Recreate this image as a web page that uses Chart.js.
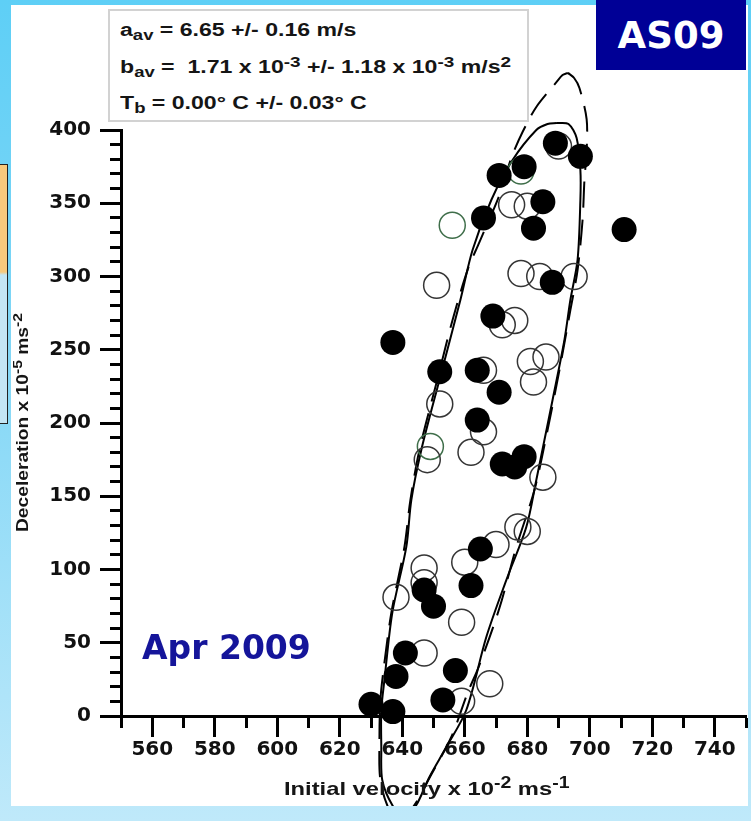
<!DOCTYPE html>
<html><head><meta charset="utf-8">
<script src="https://cdn.jsdelivr.net/npm/chart.js@4.4.1/dist/chart.umd.min.js"></script>
<style>
html,body{margin:0;padding:0;}
body{width:751px;height:821px;position:relative;overflow:hidden;background:linear-gradient(180deg,#5ecff6 0%,#7fd6f6 40%,#bfe9fa 100%);font-family:"Liberation Sans",Arial,sans-serif;}
#panel{position:absolute;left:11px;top:5px;width:737px;height:801px;background:#fff;}
#chart{position:absolute;left:11px;top:5px;}
#orange{position:absolute;left:-1px;top:164px;width:7px;height:258px;border:1px solid #222;background:linear-gradient(180deg,#f8c97c 0,#f8c97c 107px,#c4e5f4 110px,#c4e5f4 100%);}
#anno{position:absolute;left:108px;top:9px;width:417px;height:109px;border:2px solid #d2d2d2;background:#fff;}
.al{position:absolute;left:120px;font-weight:bold;font-size:17.5px;line-height:17.5px;white-space:pre;transform-origin:0 0;transform:scaleX(1.32);color:#151515;}
.sb{font-size:0.8em;position:relative;top:0.3em;}
.sp{font-size:0.82em;position:relative;top:-0.45em;}
#as09{position:absolute;left:596px;top:0;width:150px;height:70px;background:#000096;color:#fff;font-family:"DejaVu Sans";font-weight:bold;font-size:37px;line-height:72px;text-align:center;}
#apr{position:absolute;left:142px;top:631px;font-family:"DejaVu Sans";font-weight:bold;font-size:33px;line-height:33px;color:#15159a;white-space:pre;}
#xt{position:absolute;left:284px;top:779px;font-weight:bold;font-size:19px;line-height:19px;white-space:pre;transform-origin:0 0;transform:scaleX(1.25);color:#151515;}
#yt{position:absolute;left:0;top:0;font-weight:bold;font-size:16px;line-height:16px;white-space:pre;transform-origin:0 0;transform:translate(15px,532px) rotate(-90deg) scaleX(1.2);color:#151515;}
</style>
</head>
<body>
<div id="orange"></div>
<div id="panel"></div>
<canvas id="chart" width="737" height="801"></canvas>
<div id="anno"></div>
<div class="al" style="top:22px">a<span class="sb">av</span> = 6.65 +/- 0.16 m/s</div>
<div class="al" style="top:59px">b<span class="sb">av</span> =  1.71 x 10<span class="sp">-3</span> +/- 1.18 x 10<span class="sp">-3</span> m/s<span class="sp">2</span></div>
<div class="al" style="top:95px">T<span class="sb">b</span> = 0.00° C +/- 0.03° C</div>
<div id="as09">AS09</div>
<div id="apr">Apr 2009</div>
<div id="xt">Initial velocity x 10<span class="sp">-2</span> ms<span class="sp">-1</span></div>
<div id="yt">Deceleration x 10<span class="sp">-5</span> ms<span class="sp">-2</span></div>
<script>
// ---- data ----
const xMajorTicks = [560, 580, 600, 620, 640, 660, 680, 700, 720, 740];
const yMajorTicks = [0, 50, 100, 150, 200, 250, 300, 350, 400];

const filledX = [689, 697, 671, 679, 685, 666, 682, 711, 688, 669, 637, 652, 664, 671, 664, 672, 676, 679, 665, 662, 647, 650, 641, 638, 657, 653, 630, 637];
const filledY = [391, 382, 369, 375, 351, 340, 333, 332, 296, 273, 255, 235, 236, 221, 202, 172, 170, 177, 114, 89, 86, 75, 43, 27, 31, 11, 8, 3];

const openX = [690, 675, 680, 651, 678, 684, 695, 672, 676, 666, 681, 686, 682, 652, 666, 648, 662, 685, 677, 680, 670, 660, 647, 647, 638, 659, 647, 668, 659];
const openY = [389, 349, 348, 294, 302, 300, 300, 267, 270, 236, 242, 245, 228, 213, 194, 175, 180, 163, 129, 126, 117, 105, 101, 91, 81, 64, 43, 22, 10];

const openGreenX = [678, 656, 649];
const openGreenY = [372, 335, 184];

const solidX = [689.4, 693.2, 695.8, 697.0, 697.0, 696.1, 693.8, 691.9, 688.1, 685.5, 682.9, 679.7, 673.3, 666.9, 660.5, 654.1, 648.7, 644.5, 640.7, 636.8, 633.6, 633.3, 633.3, 634.3, 636.8, 641.3, 642.9, 646.1, 651.9, 658.6, 662.5, 668.5, 675.3, 682.9, 686.5, 689.4];
const solidY = [404.8, 404.1, 394.5, 372.7, 352.2, 311.3, 284.0, 256.7, 215.7, 188.4, 161.1, 129.0, 92.8, 53.9, 4.1, -21.2, -41.6, -60.8, -69.6, -60.8, -43.7, -21.2, 4.1, 24.6, 70.3, 115.4, 147.4, 181.6, 229.4, 284.0, 318.1, 352.2, 379.5, 400.0, 404.1, 404.8];

const dashX = [693.0, 695.0, 696.7, 699.0, 699.0, 698.3, 697.7, 696.1, 693.8, 690.3, 686.5, 682.3, 676.5, 671.1, 664.7, 660.9, 655.7, 648.7, 643.9, 639.7, 635.9, 633.0, 632.7, 633.0, 634.0, 636.5, 640.7, 642.6, 645.5, 651.2, 656.1, 660.9, 664.7, 671.1, 674.9, 678.5, 682.9, 689.4, 691.3, 693.0];
const dashY = [439.0, 435.5, 428.7, 407.5, 386.3, 365.9, 338.6, 304.4, 277.1, 236.2, 195.2, 154.3, 115.4, 73.7, 34.8, 15.7, -14.3, -42.3, -60.8, -71.0, -64.2, -43.7, -16.4, 10.9, 31.4, 70.3, 115.4, 147.4, 181.6, 229.4, 270.3, 304.4, 323.5, 355.6, 380.9, 398.6, 415.7, 432.8, 437.5, 439.0];

const pts = (xs, ys) => xs.map((x, i) => ({x: x, y: ys[i]}));
const tickFont = {family: 'DejaVu Sans', weight: 'bold', size: 20};

new Chart(document.getElementById('chart'), {
  type: 'scatter',
  data: {
    datasets: [
      {label: 'filled', data: pts(filledX, filledY), pointRadius: 12.5, pointHoverRadius: 12.5,
       backgroundColor: '#000', borderColor: '#000', borderWidth: 0, clip: false},
      {label: 'open', data: pts(openX, openY), pointRadius: 13, pointHoverRadius: 13,
       backgroundColor: 'rgba(0,0,0,0)', borderColor: '#353535', borderWidth: 1.5, clip: false},
      {label: 'openGreen', data: pts(openGreenX, openGreenY), pointRadius: 13, pointHoverRadius: 13,
       backgroundColor: 'rgba(0,0,0,0)', borderColor: '#3f6e4a', borderWidth: 1.5, clip: false},
      {label: 'solid', data: pts(solidX, solidY), showLine: true, pointRadius: 0, pointHoverRadius: 0,
       borderColor: '#000', borderWidth: 2, tension: 0.3, fill: false, clip: false},
      {label: 'dashed', data: pts(dashX, dashY), showLine: true, pointRadius: 0, pointHoverRadius: 0,
       borderColor: '#000', borderWidth: 2, borderDash: [26, 12], tension: 0.3, fill: false, clip: false}
    ]
  },
  options: {
    responsive: false,
    animation: false,
    devicePixelRatio: 1,
    events: [],
    layout: {autoPadding: false, padding: {top: 125, left: 0, right: 2, bottom: 0}},
    plugins: {legend: {display: false}, tooltip: {enabled: false}},
    scales: {
      x: {
        type: 'linear', position: 'bottom', min: 550, max: 750,
        afterFit: s => { s.height = 90; },
        ticks: {stepSize: 10, autoSkip: false, maxRotation: 0, padding: 1, color: '#111', font: tickFont,
                callback: v => xMajorTicks.includes(v) ? String(v) : ''},
        grid: {drawOnChartArea: false, drawTicks: true, tickLength: 21, tickWidth: 3, tickColor: '#000',
               tickBorderDash: c => (c.tick && xMajorTicks.includes(c.tick.value)) ? [] : [10, 100]},
        border: {display: true, width: 3, color: '#000'}
      },
      y: {
        type: 'linear', position: 'left', min: 0, max: 400,
        afterFit: s => { s.width = 110; },
        ticks: {stepSize: 10, autoSkip: false, padding: 9, color: '#111', font: tickFont,
                callback: v => yMajorTicks.includes(v) ? String(v) : ''},
        grid: {drawOnChartArea: false, drawTicks: true, tickLength: 21, tickWidth: 3, tickColor: '#000',
               tickBorderDash: c => (c.tick && yMajorTicks.includes(c.tick.value)) ? [] : [0, 10, 20, 100]},
        border: {display: true, width: 3, color: '#000'}
      }
    }
  }
});
</script>
</body></html>
